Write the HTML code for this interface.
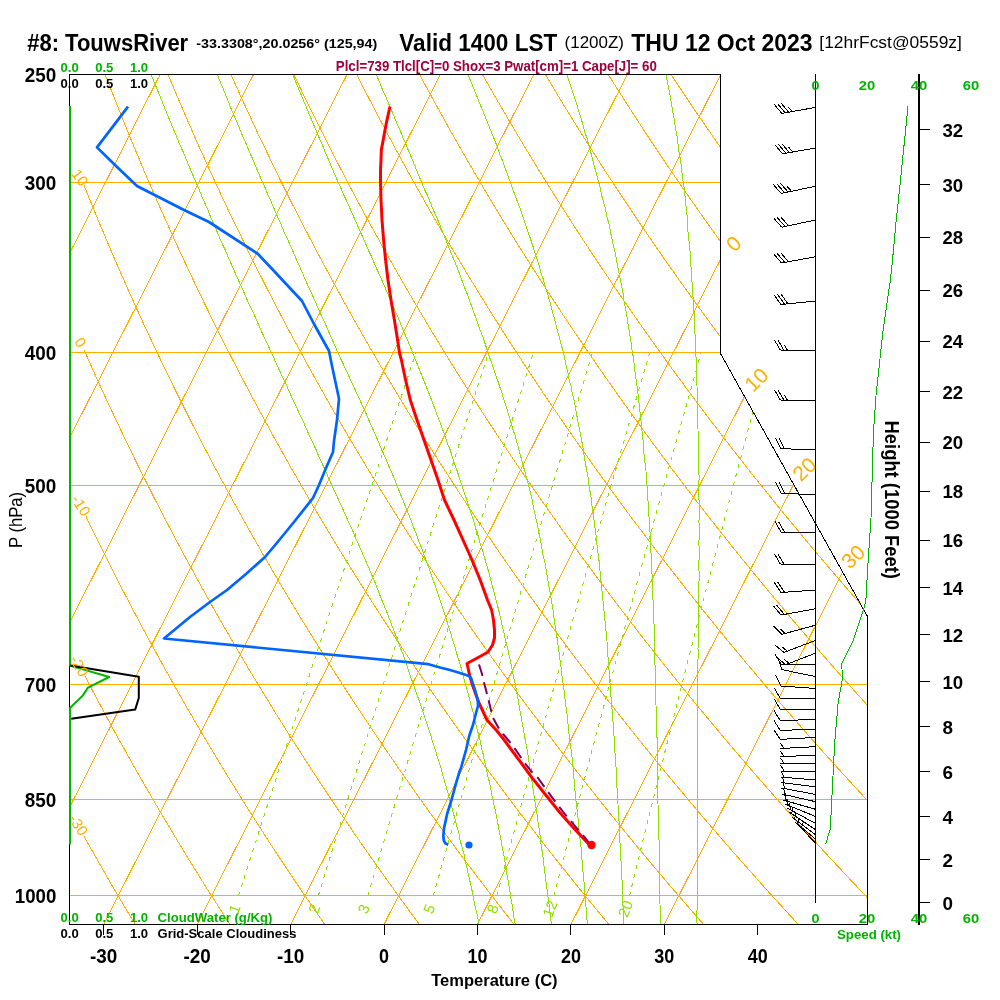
<!DOCTYPE html>
<html><head><meta charset="utf-8"><title>Skew-T TouwsRiver</title><style>html,body{margin:0;padding:0;background:#fff;overflow:hidden}svg{display:block}</style></head><body>
<svg width="1000" height="1000" viewBox="0 0 1000 1000" font-family='"Liberation Sans", Arial, Helvetica, sans-serif'><rect width="1000" height="1000" fill="#fff"/><defs><clipPath id="sk"><path d="M69.5 74.5 L720.5 74.5 L720.5 353.5 L867.5 616.5 L867.5 924.5 L69.5 924.5 Z"/></clipPath></defs>
<g clip-path="url(#sk)" fill="none" stroke-width="1" shape-rendering="crispEdges"><path d="M-737.2 924.5 L-307.1 74.5" stroke="#FFAF00"/><path d="M-643.7 924.5 L-213.6 74.5" stroke="#FFAF00"/><path d="M-550.3 924.5 L-120.2 74.5" stroke="#FFAF00"/><path d="M-456.9 924.5 L-26.8 74.5" stroke="#FFAF00"/><path d="M-363.4 924.5 L66.7 74.5" stroke="#FFAF00"/><path d="M-270 924.5 L160.1 74.5" stroke="#FFAF00"/><path d="M-176.6 924.5 L253.5 74.5" stroke="#FFAF00"/><path d="M-83.1 924.5 L347 74.5" stroke="#FFAF00"/><path d="M10.3 924.5 L440.4 74.5" stroke="#FFAF00"/><path d="M103.7 924.5 L533.8 74.5" stroke="#FFAF00"/><path d="M197.1 924.5 L627.2 74.5" stroke="#FFAF00"/><path d="M290.6 924.5 L720.7 74.5" stroke="#FFAF00"/><path d="M384 924.5 L814.1 74.5" stroke="#FFAF00"/><path d="M477.4 924.5 L907.5 74.5" stroke="#FFAF00"/><path d="M570.9 924.5 L1001 74.5" stroke="#FFAF00"/><path d="M664.3 924.5 L1094.4 74.5" stroke="#FFAF00"/><path d="M135.5 924.8 L129.1 914.2 L122.7 903.5 L116.4 892.9 L110.2 882.3 L104.1 871.6 L98 861 L91.9 850.4 L85.9 839.8 L84 836.3" stroke="#FFAF00"/><path d="M230.2 924.8 L223.3 914.2 L216.5 903.5 L209.7 892.9 L203 882.3 L196.4 871.6 L189.8 861 L183.3 850.4 L176.9 839.8 L170.5 829.1 L164.2 818.5 L157.9 807.9 L151.7 797.2 L145.5 786.6 L139.4 776 L133.4 765.4 L127.4 754.7 L121.5 744.1 L115.6 733.5 L109.8 722.8 L104.1 712.2 L98.4 701.6 L92.8 691 L87.2 680.3 L84.8 675.7" stroke="#FFAF00"/><path d="M324.9 924.8 L317.6 914.2 L310.3 903.5 L303 892.9 L295.9 882.3 L288.8 871.6 L281.7 861 L274.7 850.4 L267.8 839.8 L261 829.1 L254.2 818.5 L247.4 807.9 L240.8 797.2 L234.2 786.6 L227.6 776 L221.1 765.4 L214.7 754.7 L208.3 744.1 L202 733.5 L195.8 722.8 L189.6 712.2 L183.5 701.6 L177.4 691 L171.4 680.3 L165.5 669.7 L159.6 659.1 L153.7 648.4 L148 637.8 L142.2 627.2 L136.6 616.6 L131 605.9 L125.4 595.3 L119.9 584.7 L114.5 574 L109.1 563.4 L103.8 552.8 L98.5 542.2 L93.3 531.5 L88.1 520.9 L86 516.5" stroke="#FFAF00"/><path d="M419.7 924.8 L411.8 914.2 L404 903.5 L396.3 892.9 L388.7 882.3 L381.1 871.6 L373.6 861 L366.1 850.4 L358.7 839.8 L351.4 829.1 L344.2 818.5 L337 807.9 L329.9 797.2 L322.8 786.6 L315.8 776 L308.9 765.4 L302 754.7 L295.2 744.1 L288.4 733.5 L281.7 722.8 L275.1 712.2 L268.6 701.6 L262.1 691 L255.6 680.3 L249.2 669.7 L242.9 659.1 L236.7 648.4 L230.5 637.8 L224.3 627.2 L218.2 616.6 L212.2 605.9 L206.2 595.3 L200.3 584.7 L194.5 574 L188.7 563.4 L183 552.8 L177.3 542.2 L171.7 531.5 L166.1 520.9 L160.6 510.3 L155.1 499.6 L149.7 489 L144.4 478.4 L139.1 467.8 L133.9 457.1 L128.7 446.5 L123.6 435.9 L118.5 425.2 L113.5 414.6 L108.5 404 L103.6 393.4 L98.7 382.7 L93.9 372.1 L89.2 361.5 L84.5 350.8 L84.3 350.5" stroke="#FFAF00"/><path d="M514.4 924.8 L506.1 914.2 L497.8 903.5 L489.6 892.9 L481.5 882.3 L473.4 871.6 L465.5 861 L457.5 850.4 L449.7 839.8 L441.9 829.1 L434.2 818.5 L426.5 807.9 L418.9 797.2 L411.4 786.6 L404 776 L396.6 765.4 L389.3 754.7 L382 744.1 L374.8 733.5 L367.7 722.8 L360.6 712.2 L353.6 701.6 L346.7 691 L339.8 680.3 L333 669.7 L326.3 659.1 L319.6 648.4 L313 637.8 L306.4 627.2 L299.9 616.6 L293.4 605.9 L287.1 595.3 L280.7 584.7 L274.5 574 L268.3 563.4 L262.1 552.8 L256.1 542.2 L250 531.5 L244.1 520.9 L238.2 510.3 L232.3 499.6 L226.5 489 L220.8 478.4 L215.1 467.8 L209.5 457.1 L203.9 446.5 L198.4 435.9 L192.9 425.2 L187.5 414.6 L182.2 404 L176.9 393.4 L171.7 382.7 L166.5 372.1 L161.4 361.5 L156.3 350.8 L151.3 340.2 L146.3 329.6 L141.4 319 L136.5 308.3 L131.7 297.7 L127 287.1 L122.3 276.4 L117.6 265.8 L113 255.2 L108.5 244.6 L104 233.9 L99.5 223.3 L95.1 212.7 L90.8 202 L86.5 191.4 L84 185.3" stroke="#FFAF00"/><path d="M609.2 924.8 L600.3 914.2 L591.6 903.5 L582.9 892.9 L574.3 882.3 L565.8 871.6 L557.3 861 L548.9 850.4 L540.6 839.8 L532.4 829.1 L524.2 818.5 L516.1 807.9 L508 797.2 L500.1 786.6 L492.2 776 L484.3 765.4 L476.6 754.7 L468.9 744.1 L461.2 733.5 L453.6 722.8 L446.1 712.2 L438.7 701.6 L431.3 691 L424 680.3 L416.8 669.7 L409.6 659.1 L402.5 648.4 L395.5 637.8 L388.5 627.2 L381.5 616.6 L374.7 605.9 L367.9 595.3 L361.2 584.7 L354.5 574 L347.9 563.4 L341.3 552.8 L334.8 542.2 L328.4 531.5 L322 520.9 L315.7 510.3 L309.5 499.6 L303.3 489 L297.2 478.4 L291.1 467.8 L285.1 457.1 L279.1 446.5 L273.2 435.9 L267.4 425.2 L261.6 414.6 L255.9 404 L250.2 393.4 L244.6 382.7 L239.1 372.1 L233.6 361.5 L228.1 350.8 L222.7 340.2 L217.4 329.6 L212.1 319 L206.9 308.3 L201.7 297.7 L196.6 287.1 L191.6 276.4 L186.6 265.8 L181.6 255.2 L176.7 244.6 L171.9 233.9 L167.1 223.3 L162.3 212.7 L157.6 202 L153 191.4 L148.4 180.8 L143.8 170.2 L139.4 159.5 L134.9 148.9 L130.5 138.3 L126.2 127.6 L121.9 117 L117.7 106.4 L113.5 95.8 L109.3 85.1 L105.2 74.5" stroke="#FFAF00"/><path d="M703.9 924.8 L694.6 914.2 L685.4 903.5 L676.2 892.9 L667.1 882.3 L658.1 871.6 L649.2 861 L640.3 850.4 L631.6 839.8 L622.8 829.1 L614.2 818.5 L605.6 807.9 L597.1 797.2 L588.7 786.6 L580.3 776 L572.1 765.4 L563.8 754.7 L555.7 744.1 L547.6 733.5 L539.6 722.8 L531.7 712.2 L523.8 701.6 L516 691 L508.2 680.3 L500.6 669.7 L493 659.1 L485.4 648.4 L478 637.8 L470.5 627.2 L463.2 616.6 L455.9 605.9 L448.7 595.3 L441.6 584.7 L434.5 574 L427.5 563.4 L420.5 552.8 L413.6 542.2 L406.8 531.5 L400 520.9 L393.3 510.3 L386.7 499.6 L380.1 489 L373.6 478.4 L367.1 467.8 L360.7 457.1 L354.4 446.5 L348.1 435.9 L341.9 425.2 L335.7 414.6 L329.6 404 L323.6 393.4 L317.6 382.7 L311.6 372.1 L305.8 361.5 L300 350.8 L294.2 340.2 L288.5 329.6 L282.9 319 L277.3 308.3 L271.8 297.7 L266.3 287.1 L260.9 276.4 L255.5 265.8 L250.2 255.2 L245 244.6 L239.8 233.9 L234.6 223.3 L229.5 212.7 L224.5 202 L219.5 191.4 L214.6 180.8 L209.7 170.2 L204.9 159.5 L200.1 148.9 L195.4 138.3 L190.7 127.6 L186.1 117 L181.5 106.4 L177 95.8 L172.5 85.1 L168.1 74.5" stroke="#FFAF00"/><path d="M798.6 924.8 L788.9 914.2 L779.1 903.5 L769.5 892.9 L760 882.3 L750.5 871.6 L741.1 861 L731.7 850.4 L722.5 839.8 L713.3 829.1 L704.2 818.5 L695.2 807.9 L686.2 797.2 L677.3 786.6 L668.5 776 L659.8 765.4 L651.1 754.7 L642.5 744.1 L634 733.5 L625.5 722.8 L617.2 712.2 L608.9 701.6 L600.6 691 L592.4 680.3 L584.3 669.7 L576.3 659.1 L568.3 648.4 L560.5 637.8 L552.6 627.2 L544.9 616.6 L537.2 605.9 L529.5 595.3 L522 584.7 L514.5 574 L507.1 563.4 L499.7 552.8 L492.4 542.2 L485.2 531.5 L478 520.9 L470.9 510.3 L463.9 499.6 L456.9 489 L450 478.4 L443.1 467.8 L436.3 457.1 L429.6 446.5 L422.9 435.9 L416.3 425.2 L409.8 414.6 L403.3 404 L396.9 393.4 L390.5 382.7 L384.2 372.1 L378 361.5 L371.8 350.8 L365.7 340.2 L359.6 329.6 L353.6 319 L347.7 308.3 L341.8 297.7 L336 287.1 L330.2 276.4 L324.5 265.8 L318.8 255.2 L313.2 244.6 L307.7 233.9 L302.2 223.3 L296.7 212.7 L291.3 202 L286 191.4 L280.7 180.8 L275.5 170.2 L270.4 159.5 L265.3 148.9 L260.2 138.3 L255.2 127.6 L250.3 117 L245.4 106.4 L240.5 95.8 L235.7 85.1 L231 74.5" stroke="#FFAF00"/><path d="M893.4 924.8 L883.1 914.2 L872.9 903.5 L862.8 892.9 L852.8 882.3 L842.8 871.6 L832.9 861 L823.1 850.4 L813.4 839.8 L803.8 829.1 L794.2 818.5 L784.7 807.9 L775.3 797.2 L766 786.6 L756.7 776 L747.5 765.4 L738.4 754.7 L729.4 744.1 L720.4 733.5 L711.5 722.8 L702.7 712.2 L693.9 701.6 L685.3 691 L676.7 680.3 L668.1 669.7 L659.7 659.1 L651.3 648.4 L642.9 637.8 L634.7 627.2 L626.5 616.6 L618.4 605.9 L610.4 595.3 L602.4 584.7 L594.5 574 L586.6 563.4 L578.9 552.8 L571.2 542.2 L563.5 531.5 L556 520.9 L548.5 510.3 L541 499.6 L533.7 489 L526.4 478.4 L519.1 467.8 L511.9 457.1 L504.8 446.5 L497.8 435.9 L490.8 425.2 L483.9 414.6 L477 404 L470.2 393.4 L463.5 382.7 L456.8 372.1 L450.2 361.5 L443.6 350.8 L437.2 340.2 L430.7 329.6 L424.4 319 L418 308.3 L411.8 297.7 L405.6 287.1 L399.5 276.4 L393.4 265.8 L387.4 255.2 L381.4 244.6 L375.6 233.9 L369.7 223.3 L363.9 212.7 L358.2 202 L352.5 191.4 L346.9 180.8 L341.4 170.2 L335.9 159.5 L330.4 148.9 L325 138.3 L319.7 127.6 L314.4 117 L309.2 106.4 L304 95.8 L298.9 85.1 L293.9 74.5" stroke="#FFAF00"/><path d="M988.1 924.8 L977.4 914.2 L966.7 903.5 L956.1 892.9 L945.6 882.3 L935.2 871.6 L924.8 861 L914.5 850.4 L904.4 839.8 L894.2 829.1 L884.2 818.5 L874.3 807.9 L864.4 797.2 L854.6 786.6 L844.9 776 L835.2 765.4 L825.7 754.7 L816.2 744.1 L806.8 733.5 L797.5 722.8 L788.2 712.2 L779 701.6 L769.9 691 L760.9 680.3 L751.9 669.7 L743 659.1 L734.2 648.4 L725.4 637.8 L716.8 627.2 L708.2 616.6 L699.6 605.9 L691.2 595.3 L682.8 584.7 L674.5 574 L666.2 563.4 L658.1 552.8 L650 542.2 L641.9 531.5 L633.9 520.9 L626 510.3 L618.2 499.6 L610.4 489 L602.7 478.4 L595.1 467.8 L587.6 457.1 L580.1 446.5 L572.6 435.9 L565.2 425.2 L557.9 414.6 L550.7 404 L543.5 393.4 L536.4 382.7 L529.4 372.1 L522.4 361.5 L515.5 350.8 L508.6 340.2 L501.8 329.6 L495.1 319 L488.4 308.3 L481.8 297.7 L475.3 287.1 L468.8 276.4 L462.4 265.8 L456 255.2 L449.7 244.6 L443.4 233.9 L437.3 223.3 L431.1 212.7 L425.1 202 L419.1 191.4 L413.1 180.8 L407.2 170.2 L401.4 159.5 L395.6 148.9 L389.9 138.3 L384.2 127.6 L378.6 117 L373.1 106.4 L367.6 95.8 L362.1 85.1 L356.7 74.5" stroke="#FFAF00"/><path d="M1082.9 924.8 L1071.6 914.2 L1060.5 903.5 L1049.4 892.9 L1038.4 882.3 L1027.5 871.6 L1016.7 861 L1005.9 850.4 L995.3 839.8 L984.7 829.1 L974.2 818.5 L963.8 807.9 L953.5 797.2 L943.2 786.6 L933.1 776 L923 765.4 L913 754.7 L903 744.1 L893.2 733.5 L883.4 722.8 L873.7 712.2 L864.1 701.6 L854.5 691 L845.1 680.3 L835.7 669.7 L826.4 659.1 L817.1 648.4 L807.9 637.8 L798.9 627.2 L789.8 616.6 L780.9 605.9 L772 595.3 L763.2 584.7 L754.5 574 L745.8 563.4 L737.2 552.8 L728.7 542.2 L720.3 531.5 L711.9 520.9 L703.6 510.3 L695.4 499.6 L687.2 489 L679.1 478.4 L671.1 467.8 L663.2 457.1 L655.3 446.5 L647.5 435.9 L639.7 425.2 L632 414.6 L624.4 404 L616.9 393.4 L609.4 382.7 L602 372.1 L594.6 361.5 L587.3 350.8 L580.1 340.2 L572.9 329.6 L565.8 319 L558.8 308.3 L551.8 297.7 L544.9 287.1 L538.1 276.4 L531.3 265.8 L524.6 255.2 L517.9 244.6 L511.3 233.9 L504.8 223.3 L498.3 212.7 L491.9 202 L485.6 191.4 L479.3 180.8 L473.1 170.2 L466.9 159.5 L460.8 148.9 L454.7 138.3 L448.7 127.6 L442.8 117 L436.9 106.4 L431.1 95.8 L425.3 85.1 L419.6 74.5" stroke="#FFAF00"/><path d="M1177.6 924.8 L1165.9 914.2 L1154.2 903.5 L1142.7 892.9 L1131.2 882.3 L1119.9 871.6 L1108.6 861 L1097.4 850.4 L1086.2 839.8 L1075.2 829.1 L1064.2 818.5 L1053.4 807.9 L1042.6 797.2 L1031.9 786.6 L1021.2 776 L1010.7 765.4 L1000.2 754.7 L989.9 744.1 L979.6 733.5 L969.4 722.8 L959.2 712.2 L949.2 701.6 L939.2 691 L929.3 680.3 L919.4 669.7 L909.7 659.1 L900 648.4 L890.4 637.8 L880.9 627.2 L871.5 616.6 L862.1 605.9 L852.8 595.3 L843.6 584.7 L834.5 574 L825.4 563.4 L816.4 552.8 L807.5 542.2 L798.7 531.5 L789.9 520.9 L781.2 510.3 L772.6 499.6 L764 489 L755.5 478.4 L747.1 467.8 L738.8 457.1 L730.5 446.5 L722.3 435.9 L714.2 425.2 L706.1 414.6 L698.1 404 L690.2 393.4 L682.3 382.7 L674.5 372.1 L666.8 361.5 L659.2 350.8 L651.6 340.2 L644 329.6 L636.6 319 L629.2 308.3 L621.9 297.7 L614.6 287.1 L607.4 276.4 L600.3 265.8 L593.2 255.2 L586.2 244.6 L579.2 233.9 L572.4 223.3 L565.6 212.7 L558.8 202 L552.1 191.4 L545.5 180.8 L538.9 170.2 L532.4 159.5 L525.9 148.9 L519.6 138.3 L513.2 127.6 L507 117 L500.8 106.4 L494.6 95.8 L488.5 85.1 L482.5 74.5" stroke="#FFAF00"/><path d="M1272.4 924.8 L1260.1 914.2 L1248 903.5 L1236 892.9 L1224 882.3 L1212.2 871.6 L1200.4 861 L1188.8 850.4 L1177.2 839.8 L1165.7 829.1 L1154.2 818.5 L1142.9 807.9 L1131.7 797.2 L1120.5 786.6 L1109.4 776 L1098.4 765.4 L1087.5 754.7 L1076.7 744.1 L1066 733.5 L1055.3 722.8 L1044.7 712.2 L1034.2 701.6 L1023.8 691 L1013.5 680.3 L1003.2 669.7 L993.1 659.1 L983 648.4 L972.9 637.8 L963 627.2 L953.1 616.6 L943.4 605.9 L933.7 595.3 L924 584.7 L914.5 574 L905 563.4 L895.6 552.8 L886.3 542.2 L877 531.5 L867.9 520.9 L858.8 510.3 L849.8 499.6 L840.8 489 L831.9 478.4 L823.1 467.8 L814.4 457.1 L805.7 446.5 L797.1 435.9 L788.6 425.2 L780.2 414.6 L771.8 404 L763.5 393.4 L755.3 382.7 L747.1 372.1 L739 361.5 L731 350.8 L723 340.2 L715.1 329.6 L707.3 319 L699.6 308.3 L691.9 297.7 L684.3 287.1 L676.7 276.4 L669.2 265.8 L661.8 255.2 L654.4 244.6 L647.1 233.9 L639.9 223.3 L632.8 212.7 L625.7 202 L618.6 191.4 L611.7 180.8 L604.7 170.2 L597.9 159.5 L591.1 148.9 L584.4 138.3 L577.7 127.6 L571.1 117 L564.6 106.4 L558.1 95.8 L551.7 85.1 L545.4 74.5" stroke="#FFAF00"/><path d="M1367.1 924.8 L1354.4 914.2 L1341.8 903.5 L1329.3 892.9 L1316.9 882.3 L1304.5 871.6 L1292.3 861 L1280.2 850.4 L1268.1 839.8 L1256.1 829.1 L1244.3 818.5 L1232.5 807.9 L1220.8 797.2 L1209.1 786.6 L1197.6 776 L1186.2 765.4 L1174.8 754.7 L1163.5 744.1 L1152.4 733.5 L1141.3 722.8 L1130.2 712.2 L1119.3 701.6 L1108.5 691 L1097.7 680.3 L1087 669.7 L1076.4 659.1 L1065.9 648.4 L1055.4 637.8 L1045.1 627.2 L1034.8 616.6 L1024.6 605.9 L1014.5 595.3 L1004.4 584.7 L994.5 574 L984.6 563.4 L974.8 552.8 L965.1 542.2 L955.4 531.5 L945.9 520.9 L936.4 510.3 L926.9 499.6 L917.6 489 L908.3 478.4 L899.1 467.8 L890 457.1 L881 446.5 L872 435.9 L863.1 425.2 L854.3 414.6 L845.5 404 L836.8 393.4 L828.2 382.7 L819.7 372.1 L811.2 361.5 L802.8 350.8 L794.5 340.2 L786.2 329.6 L778.1 319 L769.9 308.3 L761.9 297.7 L753.9 287.1 L746 276.4 L738.2 265.8 L730.4 255.2 L722.7 244.6 L715 233.9 L707.5 223.3 L700 212.7 L692.5 202 L685.1 191.4 L677.8 180.8 L670.6 170.2 L663.4 159.5 L656.3 148.9 L649.2 138.3 L642.2 127.6 L635.3 117 L628.5 106.4 L621.7 95.8 L614.9 85.1 L608.2 74.5" stroke="#FFAF00"/><path d="M1461.8 924.8 L1448.7 914.2 L1435.6 903.5 L1422.6 892.9 L1409.7 882.3 L1396.9 871.6 L1384.2 861 L1371.6 850.4 L1359 839.8 L1346.6 829.1 L1334.3 818.5 L1322 807.9 L1309.8 797.2 L1297.8 786.6 L1285.8 776 L1273.9 765.4 L1262.1 754.7 L1250.4 744.1 L1238.7 733.5 L1227.2 722.8 L1215.7 712.2 L1204.4 701.6 L1193.1 691 L1181.9 680.3 L1170.8 669.7 L1159.7 659.1 L1148.8 648.4 L1137.9 637.8 L1127.2 627.2 L1116.5 616.6 L1105.8 605.9 L1095.3 595.3 L1084.9 584.7 L1074.5 574 L1064.2 563.4 L1054 552.8 L1043.9 542.2 L1033.8 531.5 L1023.8 520.9 L1013.9 510.3 L1004.1 499.6 L994.4 489 L984.7 478.4 L975.1 467.8 L965.6 457.1 L956.2 446.5 L946.8 435.9 L937.6 425.2 L928.3 414.6 L919.2 404 L910.2 393.4 L901.2 382.7 L892.3 372.1 L883.4 361.5 L874.7 350.8 L866 340.2 L857.4 329.6 L848.8 319 L840.3 308.3 L831.9 297.7 L823.6 287.1 L815.3 276.4 L807.1 265.8 L799 255.2 L790.9 244.6 L782.9 233.9 L775 223.3 L767.2 212.7 L759.4 202 L751.7 191.4 L744 180.8 L736.4 170.2 L728.9 159.5 L721.5 148.9 L714.1 138.3 L706.8 127.6 L699.5 117 L692.3 106.4 L685.2 95.8 L678.1 85.1 L671.1 74.5" stroke="#FFAF00"/><path d="M1556.6 924.8 L1542.9 914.2 L1529.3 903.5 L1515.9 892.9 L1502.5 882.3 L1489.2 871.6 L1476 861 L1463 850.4 L1450 839.8 L1437.1 829.1 L1424.3 818.5 L1411.6 807.9 L1398.9 797.2 L1386.4 786.6 L1374 776 L1361.6 765.4 L1349.4 754.7 L1337.2 744.1 L1325.1 733.5 L1313.2 722.8 L1301.3 712.2 L1289.5 701.6 L1277.7 691 L1266.1 680.3 L1254.6 669.7 L1243.1 659.1 L1231.7 648.4 L1220.4 637.8 L1209.2 627.2 L1198.1 616.6 L1187.1 605.9 L1176.1 595.3 L1165.3 584.7 L1154.5 574 L1143.8 563.4 L1133.2 552.8 L1122.6 542.2 L1112.2 531.5 L1101.8 520.9 L1091.5 510.3 L1081.3 499.6 L1071.2 489 L1061.1 478.4 L1051.1 467.8 L1041.2 457.1 L1031.4 446.5 L1021.7 435.9 L1012 425.2 L1002.4 414.6 L992.9 404 L983.5 393.4 L974.1 382.7 L964.8 372.1 L955.6 361.5 L946.5 350.8 L937.4 340.2 L928.5 329.6 L919.5 319 L910.7 308.3 L901.9 297.7 L893.2 287.1 L884.6 276.4 L876.1 265.8 L867.6 255.2 L859.2 244.6 L850.8 233.9 L842.6 223.3 L834.4 212.7 L826.2 202 L818.2 191.4 L810.2 180.8 L802.3 170.2 L794.4 159.5 L786.6 148.9 L778.9 138.3 L771.3 127.6 L763.7 117 L756.2 106.4 L748.7 95.8 L741.3 85.1 L734 74.5" stroke="#FFAF00"/><path d="M1651.3 924.8 L1637.2 914.2 L1623.1 903.5 L1609.2 892.9 L1595.3 882.3 L1581.6 871.6 L1567.9 861 L1554.4 850.4 L1540.9 839.8 L1527.5 829.1 L1514.3 818.5 L1501.1 807.9 L1488 797.2 L1475 786.6 L1462.2 776 L1449.4 765.4 L1436.7 754.7 L1424.1 744.1 L1411.5 733.5 L1399.1 722.8 L1386.8 712.2 L1374.5 701.6 L1362.4 691 L1350.3 680.3 L1338.3 669.7 L1326.4 659.1 L1314.6 648.4 L1302.9 637.8 L1291.3 627.2 L1279.8 616.6 L1268.3 605.9 L1257 595.3 L1245.7 584.7 L1234.5 574 L1223.4 563.4 L1212.4 552.8 L1201.4 542.2 L1190.6 531.5 L1179.8 520.9 L1169.1 510.3 L1158.5 499.6 L1148 489 L1137.5 478.4 L1127.1 467.8 L1116.9 457.1 L1106.6 446.5 L1096.5 435.9 L1086.5 425.2 L1076.5 414.6 L1066.6 404 L1056.8 393.4 L1047.1 382.7 L1037.4 372.1 L1027.8 361.5 L1018.3 350.8 L1008.9 340.2 L999.6 329.6 L990.3 319 L981.1 308.3 L972 297.7 L962.9 287.1 L953.9 276.4 L945 265.8 L936.2 255.2 L927.4 244.6 L918.7 233.9 L910.1 223.3 L901.6 212.7 L893.1 202 L884.7 191.4 L876.4 180.8 L868.1 170.2 L859.9 159.5 L851.8 148.9 L843.8 138.3 L835.8 127.6 L827.9 117 L820 106.4 L812.2 95.8 L804.5 85.1 L796.9 74.5" stroke="#FFAF00"/><path d="M1746.1 924.8 L1731.4 914.2 L1716.9 903.5 L1702.5 892.9 L1688.1 882.3 L1673.9 871.6 L1659.8 861 L1645.8 850.4 L1631.8 839.8 L1618 829.1 L1604.3 818.5 L1590.7 807.9 L1577.1 797.2 L1563.7 786.6 L1550.3 776 L1537.1 765.4 L1523.9 754.7 L1510.9 744.1 L1497.9 733.5 L1485.1 722.8 L1472.3 712.2 L1459.6 701.6 L1447 691 L1434.5 680.3 L1422.1 669.7 L1409.8 659.1 L1397.6 648.4 L1385.4 637.8 L1373.4 627.2 L1361.4 616.6 L1349.6 605.9 L1337.8 595.3 L1326.1 584.7 L1314.5 574 L1303 563.4 L1291.5 552.8 L1280.2 542.2 L1268.9 531.5 L1257.8 520.9 L1246.7 510.3 L1235.7 499.6 L1224.7 489 L1213.9 478.4 L1203.1 467.8 L1192.5 457.1 L1181.9 446.5 L1171.4 435.9 L1160.9 425.2 L1150.6 414.6 L1140.3 404 L1130.1 393.4 L1120 382.7 L1110 372.1 L1100 361.5 L1090.2 350.8 L1080.4 340.2 L1070.7 329.6 L1061 319 L1051.5 308.3 L1042 297.7 L1032.6 287.1 L1023.2 276.4 L1014 265.8 L1004.8 255.2 L995.7 244.6 L986.6 233.9 L977.7 223.3 L968.8 212.7 L960 202 L951.2 191.4 L942.6 180.8 L934 170.2 L925.4 159.5 L917 148.9 L908.6 138.3 L900.3 127.6 L892 117 L883.9 106.4 L875.7 95.8 L867.7 85.1 L859.7 74.5" stroke="#FFAF00"/><path d="M1840.8 924.8 L1825.7 914.2 L1810.7 903.5 L1795.8 892.9 L1781 882.3 L1766.3 871.6 L1751.7 861 L1737.2 850.4 L1722.8 839.8 L1708.5 829.1 L1694.3 818.5 L1680.2 807.9 L1666.2 797.2 L1652.3 786.6 L1638.5 776 L1624.8 765.4 L1611.2 754.7 L1597.7 744.1 L1584.3 733.5 L1571 722.8 L1557.8 712.2 L1544.7 701.6 L1531.7 691 L1518.7 680.3 L1505.9 669.7 L1493.1 659.1 L1480.5 648.4 L1467.9 637.8 L1455.5 627.2 L1443.1 616.6 L1430.8 605.9 L1418.6 595.3 L1406.5 584.7 L1394.5 574 L1382.6 563.4 L1370.7 552.8 L1359 542.2 L1347.3 531.5 L1335.7 520.9 L1324.2 510.3 L1312.8 499.6 L1301.5 489 L1290.3 478.4 L1279.1 467.8 L1268.1 457.1 L1257.1 446.5 L1246.2 435.9 L1235.4 425.2 L1224.7 414.6 L1214 404 L1203.5 393.4 L1193 382.7 L1182.6 372.1 L1172.3 361.5 L1162 350.8 L1151.9 340.2 L1141.8 329.6 L1131.8 319 L1121.8 308.3 L1112 297.7 L1102.2 287.1 L1092.5 276.4 L1082.9 265.8 L1073.4 255.2 L1063.9 244.6 L1054.5 233.9 L1045.2 223.3 L1036 212.7 L1026.8 202 L1017.8 191.4 L1008.7 180.8 L999.8 170.2 L990.9 159.5 L982.1 148.9 L973.4 138.3 L964.8 127.6 L956.2 117 L947.7 106.4 L939.3 95.8 L930.9 85.1 L922.6 74.5" stroke="#FFAF00"/><path d="M1935.5 924.8 L1919.9 914.2 L1904.4 903.5 L1889.1 892.9 L1873.8 882.3 L1858.6 871.6 L1843.5 861 L1828.6 850.4 L1813.7 839.8 L1799 829.1 L1784.3 818.5 L1769.8 807.9 L1755.3 797.2 L1741 786.6 L1726.7 776 L1712.6 765.4 L1698.5 754.7 L1684.6 744.1 L1670.7 733.5 L1657 722.8 L1643.3 712.2 L1629.8 701.6 L1616.3 691 L1602.9 680.3 L1589.7 669.7 L1576.5 659.1 L1563.4 648.4 L1550.4 637.8 L1537.5 627.2 L1524.7 616.6 L1512 605.9 L1499.4 595.3 L1486.9 584.7 L1474.5 574 L1462.2 563.4 L1449.9 552.8 L1437.7 542.2 L1425.7 531.5 L1413.7 520.9 L1401.8 510.3 L1390 499.6 L1378.3 489 L1366.7 478.4 L1355.1 467.8 L1343.7 457.1 L1332.3 446.5 L1321.1 435.9 L1309.9 425.2 L1298.7 414.6 L1287.7 404 L1276.8 393.4 L1265.9 382.7 L1255.2 372.1 L1244.5 361.5 L1233.8 350.8 L1223.3 340.2 L1212.9 329.6 L1202.5 319 L1192.2 308.3 L1182 297.7 L1171.9 287.1 L1161.8 276.4 L1151.9 265.8 L1142 255.2 L1132.2 244.6 L1122.4 233.9 L1112.8 223.3 L1103.2 212.7 L1093.7 202 L1084.3 191.4 L1074.9 180.8 L1065.6 170.2 L1056.4 159.5 L1047.3 148.9 L1038.3 138.3 L1029.3 127.6 L1020.4 117 L1011.6 106.4 L1002.8 95.8 L994.1 85.1 L985.5 74.5" stroke="#FFAF00"/><path d="M2030.3 924.8 L2014.2 914.2 L1998.2 903.5 L1982.4 892.9 L1966.6 882.3 L1951 871.6 L1935.4 861 L1920 850.4 L1904.6 839.8 L1889.4 829.1 L1874.3 818.5 L1859.3 807.9 L1844.4 797.2 L1829.6 786.6 L1814.9 776 L1800.3 765.4 L1785.8 754.7 L1771.4 744.1 L1757.1 733.5 L1742.9 722.8 L1728.8 712.2 L1714.8 701.6 L1700.9 691 L1687.1 680.3 L1673.4 669.7 L1659.8 659.1 L1646.3 648.4 L1632.9 637.8 L1619.6 627.2 L1606.4 616.6 L1593.3 605.9 L1580.3 595.3 L1567.3 584.7 L1554.5 574 L1541.7 563.4 L1529.1 552.8 L1516.5 542.2 L1504.1 531.5 L1491.7 520.9 L1479.4 510.3 L1467.2 499.6 L1455.1 489 L1443.1 478.4 L1431.2 467.8 L1419.3 457.1 L1407.6 446.5 L1395.9 435.9 L1384.3 425.2 L1372.8 414.6 L1361.4 404 L1350.1 393.4 L1338.9 382.7 L1327.7 372.1 L1316.7 361.5 L1305.7 350.8 L1294.8 340.2 L1284 329.6 L1273.2 319 L1262.6 308.3 L1252 297.7 L1241.6 287.1 L1231.1 276.4 L1220.8 265.8 L1210.6 255.2 L1200.4 244.6 L1190.3 233.9 L1180.3 223.3 L1170.4 212.7 L1160.6 202 L1150.8 191.4 L1141.1 180.8 L1131.5 170.2 L1122 159.5 L1112.5 148.9 L1103.1 138.3 L1093.8 127.6 L1084.6 117 L1075.4 106.4 L1066.3 95.8 L1057.3 85.1 L1048.4 74.5" stroke="#FFAF00"/><path d="M69.5 182.5 H880" stroke="#FFAF00"/><path d="M69.5 352.5 H880" stroke="#FFAF00"/><path d="M69.5 485.5 H880" stroke="#FFAF00"/><path d="M69.5 684.5 H880" stroke="#FFAF00"/><path d="M69.5 799.5 H880" stroke="#FFAF00"/><path d="M69.5 895.5 H880" stroke="#FFAF00"/><path d="M479.2 924.8 L477.8 917.7 L476.2 910.6 L474.5 903.5 L473.2 896.4 L471.8 889.4 L470.2 882.3 L468.5 875.2 L467.1 868.1 L465.2 861 L463.9 853.9 L461.9 846.8 L460 839.8 L458.7 832.7 L456.7 825.6 L454.8 818.5 L452.9 811.4 L451 804.3 L449.1 797.2 L447.1 790.2 L445.1 783.1 L443.1 776 L441.2 768.9 L438.9 761.8 L436.7 754.7 L434.7 747.6 L432.2 740.6 L430.2 733.5 L427.7 726.4 L425.5 719.3 L423.2 712.2 L420.7 705.1 L418.2 698 L415.7 691 L413.2 683.9 L410.7 676.8 L408.3 669.7 L405.9 662.6 L403.5 655.5 L400.5 648.4 L398.1 641.4 L395.3 634.3 L392.6 627.2 L389.9 620.1 L387.2 613 L384.3 605.9 L381.3 598.8 L378.6 591.8 L375.9 584.7 L372.9 577.6 L369.9 570.5 L366.9 563.4 L363.7 556.3 L360.7 549.2 L357.5 542.2 L354.5 535.1 L351.5 528 L348 520.9 L345 513.8 L341.8 506.7 L338.5 499.6 L335.3 492.6 L332 485.5 L328.6 478.4 L325.8 471.3 L322.4 464.2 L319.1 457.1 L316.2 450 L312.9 443 L309.5 435.9 L306.4 428.8 L303.3 421.7 L299.9 414.6 L296.6 407.5 L293.2 400.4 L290.1 393.4 L287 386.3 L283.6 379.2 L280.3 372.1 L276.9 365 L273.8 357.9 L270.4 350.8 L267.4 343.8 L264 336.7 L260.7 329.6 L257.6 322.5 L254.5 315.4 L251.1 308.3 L247.8 301.2 L244.7 294.2 L241.6 287.1 L238.3 280 L235.2 272.9 L232.1 265.8 L228.8 258.7 L226 251.6 L222.6 244.6 L219.5 237.5 L216.5 230.4 L213.4 223.3 L210.3 216.2 L207.5 209.1 L204.4 202 L201.3 195 L198.5 187.9 L195.4 180.8 L192.2 173.7 L189.2 166.6 L186.3 159.5 L183.4 152.4 L180.1 145.4 L177.2 138.3 L174.3 131.2 L171.3 124.1 L168.4 117 L165.4 109.9 L162.7 102.8 L159.8 95.8 L156.9 88.7 L153.9 81.6 L151.2 74.5" stroke="#90E000"/><path d="M515.3 924.8 L514 917.7 L512.9 910.6 L511.9 903.5 L510.5 896.4 L509.7 889.4 L508.4 882.3 L507 875.2 L506 868.1 L504.9 861 L503.6 853.9 L502.2 846.8 L500.9 839.8 L499.5 832.7 L498.2 825.6 L496.9 818.5 L495.5 811.4 L493.9 804.3 L492.3 797.2 L491 790.2 L489.7 783.1 L487.8 776 L486.5 768.9 L484.6 761.8 L483.3 754.7 L481.5 747.6 L480.2 740.6 L478.3 733.5 L476.4 726.4 L474.6 719.3 L473 712.2 L471.1 705.1 L469.3 698 L467.4 691 L465.3 683.9 L463.4 676.8 L461.6 669.7 L459.7 662.6 L457.3 655.5 L455.4 648.4 L453 641.4 L451.1 634.3 L448.7 627.2 L446.6 620.1 L444.4 613 L442 605.9 L439.6 598.8 L437.2 591.8 L434.8 584.7 L432.3 577.6 L429.9 570.5 L427.2 563.4 L424.6 556.3 L422.1 549.2 L419.2 542.2 L416.8 535.1 L413.8 528 L411.4 520.9 L408.4 513.8 L405.5 506.7 L402.8 499.6 L399.8 492.6 L397.1 485.5 L394.2 478.4 L391.2 471.3 L388 464.2 L385.1 457.1 L381.8 450 L378.9 443 L375.9 435.9 L372.7 428.8 L369.5 421.7 L366.6 414.6 L363.1 407.5 L360.1 400.4 L356.6 393.4 L353.7 386.3 L350.2 379.2 L347 372.1 L343.7 365 L340.3 357.9 L337.1 350.8 L334.1 343.8 L330.8 336.7 L327.7 329.6 L324.7 322.5 L321.4 315.4 L318.1 308.3 L315.1 301.2 L312 294.2 L308.7 287.1 L305.4 280 L302.4 272.9 L299.4 265.8 L296.1 258.7 L293 251.6 L290 244.6 L286.7 237.5 L283.4 230.4 L280.7 223.3 L277.3 216.2 L274.3 209.1 L271.3 202 L268 195 L265.2 187.9 L261.9 180.8 L258.8 173.7 L255.7 166.6 L252.9 159.5 L249.6 152.4 L246.8 145.4 L243.7 138.3 L240.6 131.2 L237.8 124.1 L234.7 117 L231.6 109.9 L228.8 102.8 L226 95.8 L223.2 88.7 L220.1 81.6 L217.3 74.5" stroke="#90E000"/><path d="M551.5 924.8 L550.6 917.7 L549.8 910.6 L549 903.5 L547.9 896.4 L547.1 889.4 L546 882.3 L545.2 875.2 L544.3 868.1 L543.5 861 L542.7 853.9 L541.3 846.8 L540.5 839.8 L539.7 832.7 L538.6 825.6 L537.5 818.5 L536.7 811.4 L535.3 804.3 L534.5 797.2 L533.2 790.2 L532.2 783.1 L531.2 776 L530 768.9 L529 761.8 L528 754.7 L526.7 747.6 L525.4 740.6 L524.1 733.5 L522.9 726.4 L521.6 719.3 L520.3 712.2 L519 705.1 L517.8 698 L516.5 691 L515.2 683.9 L513.6 676.8 L512.1 669.7 L510.7 662.6 L509.2 655.5 L507.6 648.4 L505.7 641.4 L504.4 634.3 L502.6 627.2 L501 620.1 L499.4 613 L497.6 605.9 L495.7 598.8 L493.9 591.8 L492 584.7 L490.1 577.6 L488.3 570.5 L486.2 563.4 L484 556.3 L482.2 549.2 L479.8 542.2 L477.9 535.1 L475.5 528 L473.7 520.9 L471.3 513.8 L468.9 506.7 L466.7 499.6 L464.3 492.6 L461.9 485.5 L459.6 478.4 L457.3 471.3 L454.8 464.2 L452.5 457.1 L450.2 450 L447.3 443 L445 435.9 L442.4 428.8 L439.8 421.7 L437 414.6 L434.4 407.5 L431.8 400.4 L429 393.4 L426.1 386.3 L423.3 379.2 L420.4 372.1 L417.6 365 L414.7 357.9 L411.9 350.8 L409.1 343.8 L406 336.7 L402.9 329.6 L400.1 322.5 L397.2 315.4 L393.9 308.3 L391.1 301.2 L388 294.2 L384.9 287.1 L381.8 280 L378.7 272.9 L375.3 265.8 L372.5 258.7 L369.1 251.6 L366 244.6 L362.9 237.5 L359.6 230.4 L356.7 223.3 L353.4 216.2 L350.3 209.1 L347.2 202 L343.8 195 L340.7 187.9 L337.6 180.8 L334.4 173.7 L331.4 166.6 L328.5 159.5 L325.2 152.4 L322.6 145.4 L319.3 138.3 L316.4 131.2 L313.4 124.1 L310.4 117 L307.5 109.9 L304.5 102.8 L301.5 95.8 L298.6 88.7 L295.6 81.6 L292.9 74.5" stroke="#90E000"/><path d="M587.6 924.8 L586.7 917.7 L586.4 910.6 L585.6 903.5 L585.3 896.4 L584.4 889.4 L584.1 882.3 L583.3 875.2 L582.7 868.1 L582.1 861 L581.3 853.9 L581 846.8 L580.1 839.8 L579.3 832.7 L578.4 825.6 L578.1 818.5 L577.3 811.4 L576.4 804.3 L575.6 797.2 L574.9 790.2 L574.4 783.1 L573.7 776 L573.2 768.9 L572.5 761.8 L571.8 754.7 L570.8 747.6 L569.7 740.6 L569 733.5 L568.3 726.4 L567.5 719.3 L566.8 712.2 L565.8 705.1 L564.8 698 L564.1 691 L563.1 683.9 L562.1 676.8 L561.5 669.7 L560.3 662.6 L559.6 655.5 L558.4 648.4 L557.5 641.4 L556.6 634.3 L555.4 627.2 L554.2 620.1 L553.5 613 L552.3 605.9 L551.1 598.8 L549.9 591.8 L548.7 584.7 L547.5 577.6 L546.3 570.5 L545.1 563.4 L543.3 556.3 L542.1 549.2 L540.9 542.2 L539.4 535.1 L538 528 L536.5 520.9 L535 513.8 L533.3 506.7 L532.1 499.6 L530.3 492.6 L528.6 485.5 L526.7 478.4 L524.8 471.3 L522.8 464.2 L520.9 457.1 L519 450 L517.1 443 L515.2 435.9 L512.7 428.8 L510.8 421.7 L508.6 414.6 L506.5 407.5 L504 400.4 L502.1 393.4 L499.6 386.3 L497.2 379.2 L494.7 372.1 L492.3 365 L489.8 357.9 L487.4 350.8 L485.1 343.8 L482.8 336.7 L479.9 329.6 L477.6 322.5 L475 315.4 L472.4 308.3 L469.8 301.2 L467.3 294.2 L464.4 287.1 L461.8 280 L459.2 272.9 L456.4 265.8 L453.5 258.7 L450.6 251.6 L447.8 244.6 L444.9 237.5 L442.1 230.4 L439.2 223.3 L436.1 216.2 L432.9 209.1 L430.1 202 L427.2 195 L423.8 187.9 L421 180.8 L418 173.7 L415.1 166.6 L412.4 159.5 L409.1 152.4 L406.4 145.4 L403.2 138.3 L400.5 131.2 L397.2 124.1 L394.3 117 L391.3 109.9 L388.3 102.8 L385.4 95.8 L382.1 88.7 L379.4 81.6 L376.2 74.5" stroke="#90E000"/><path d="M623.7 924.8 L623.5 917.7 L623.2 910.6 L622.9 903.5 L622.6 896.4 L622.4 889.4 L622.1 882.3 L621.8 875.2 L621.5 868.1 L621 861 L620.4 853.9 L620.2 846.8 L619.9 839.8 L619.6 832.7 L619.3 825.6 L618.8 818.5 L618.2 811.4 L618 804.3 L617.7 797.2 L617.2 790.2 L616.7 783.1 L616.4 776 L616.2 768.9 L615.4 761.8 L615.2 754.7 L614.4 747.6 L614.2 740.6 L613.9 733.5 L613.2 726.4 L612.9 719.3 L612.1 712.2 L611.9 705.1 L611.1 698 L610.6 691 L610.1 683.9 L609.4 676.8 L609 669.7 L608.6 662.6 L607.9 655.5 L607.2 648.4 L607 641.4 L606.3 634.3 L605.6 627.2 L604.9 620.1 L604.2 613 L603.5 605.9 L602.8 598.8 L602.1 591.8 L601.4 584.7 L600.7 577.6 L600 570.5 L599.3 563.4 L598.6 556.3 L597.4 549.2 L596.7 542.2 L596 535.1 L595 528 L594.1 520.9 L593.4 513.8 L592.1 506.7 L591.4 499.6 L590.2 492.6 L588.9 485.5 L588.2 478.4 L586.9 471.3 L585.6 464.2 L584.3 457.1 L583.3 450 L582.1 443 L580.8 435.9 L579.5 428.8 L577.9 421.7 L576.7 414.6 L575.4 407.5 L574.1 400.4 L572.3 393.4 L571 386.3 L569.1 379.2 L567.9 372.1 L566 365 L564.7 357.9 L562.9 350.8 L561 343.8 L559.1 336.7 L557.2 329.6 L555.4 322.5 L553.5 315.4 L551.6 308.3 L549.7 301.2 L547.8 294.2 L545.4 287.1 L543.5 280 L541.1 272.9 L539.2 265.8 L536.8 258.7 L534.6 251.6 L532.4 244.6 L530 237.5 L527.6 230.4 L525.1 223.3 L522.7 216.2 L520.3 209.1 L517.6 202 L514.9 195 L512.4 187.9 L509.8 180.8 L507.2 173.7 L504.6 166.6 L502 159.5 L499.1 152.4 L496.8 145.4 L493.9 138.3 L491 131.2 L488.1 124.1 L485.3 117 L482.4 109.9 L479.5 102.8 L476.7 95.8 L473.8 88.7 L470.9 81.6 L468 74.5" stroke="#90E000"/><path d="M660.4 924.8 L660.1 917.7 L660.1 910.6 L660 903.5 L659.7 896.4 L660 889.4 L659.7 882.3 L659.4 875.2 L659.6 868.1 L659.3 861 L659 853.9 L659 846.8 L659 839.8 L658.7 832.7 L658.3 825.6 L658.6 818.5 L658.3 811.4 L658 804.3 L657.7 797.2 L657.8 790.2 L657.8 783.1 L657.6 776 L657.4 768.9 L657.2 761.8 L657.2 754.7 L657.3 747.6 L657.1 740.6 L656.9 733.5 L656.6 726.4 L656.4 719.3 L656.2 712.2 L656 705.1 L655.8 698 L655.6 691 L655.4 683.9 L655.5 676.8 L655.3 669.7 L654.9 662.6 L654.7 655.5 L654.5 648.4 L654.4 641.4 L654.2 634.3 L654.1 627.2 L653.9 620.1 L653.7 613 L653.6 605.9 L652.9 598.8 L652.7 591.8 L652.5 584.7 L652.4 577.6 L651.7 570.5 L651.5 563.4 L651.4 556.3 L650.6 549.2 L650.5 542.2 L650.3 535.1 L649.6 528 L649.5 520.9 L648.7 513.8 L648.6 506.7 L647.9 499.6 L647.7 492.6 L647 485.5 L646.2 478.4 L646 471.3 L645.2 464.2 L644.4 457.1 L643.6 450 L643.4 443 L642.6 435.9 L641.8 428.8 L641.1 421.7 L640.3 414.6 L639.5 407.5 L638.7 400.4 L637.9 393.4 L637.1 386.3 L636.1 379.2 L635 372.1 L634.2 365 L633.5 357.9 L632.1 350.8 L631.3 343.8 L630.2 336.7 L629 329.6 L627.7 322.5 L626.8 315.4 L625.4 308.3 L624 301.2 L623.2 294.2 L621.8 287.1 L620.4 280 L619 272.9 L617.6 265.8 L616.3 258.7 L614.9 251.6 L613.2 244.6 L611.6 237.5 L610.2 230.4 L608.8 223.3 L606.8 216.2 L605.5 209.1 L603.5 202 L601.6 195 L600.2 187.9 L598.3 180.8 L596.4 173.7 L594.5 166.6 L592.6 159.5 L590.7 152.4 L588.9 145.4 L587 138.3 L584.5 131.2 L582.7 124.1 L580.8 117 L578.4 109.9 L576.2 102.8 L574 95.8 L571.6 88.7 L569.2 81.6 L567 74.5" stroke="#90E000"/><path d="M697.1 924.8 L696.8 917.7 L697 910.6 L697.2 903.5 L697.1 896.4 L697.1 889.4 L697.3 882.3 L697.2 875.2 L697.2 868.1 L697.4 861 L697.6 853.9 L697.3 846.8 L697.5 839.8 L697.7 832.7 L697.4 825.6 L697.6 818.5 L697.5 811.4 L697.5 804.3 L697.7 797.2 L697.3 790.2 L697.5 783.1 L697.8 776 L697.4 768.9 L697.6 761.8 L697.8 754.7 L697.5 747.6 L697.7 740.6 L697.4 733.5 L697.6 726.4 L697.8 719.3 L697.4 712.2 L697.7 705.1 L697.3 698 L697.5 691 L697.2 683.9 L697.6 676.8 L697.7 669.7 L697.8 662.6 L698.2 655.5 L698 648.4 L698.4 641.4 L698.3 634.3 L698.4 627.2 L698.5 620.1 L698.3 613 L698.7 605.9 L698.5 598.8 L698.9 591.8 L698.8 584.7 L699.2 577.6 L699 570.5 L698.8 563.4 L699.2 556.3 L699.1 549.2 L698.9 542.2 L699.3 535.1 L699.1 528 L699 520.9 L699.1 513.8 L699.2 506.7 L699 499.6 L698.9 492.6 L698.7 485.5 L699.1 478.4 L698.9 471.3 L698.8 464.2 L698.6 457.1 L698.4 450 L698.3 443 L698.1 435.9 L698 428.8 L697.8 421.7 L697.6 414.6 L697.5 407.5 L697.3 400.4 L697.2 393.4 L697 386.3 L696.8 379.2 L696.7 372.1 L696.5 365 L696.1 357.9 L695.6 350.8 L695.5 343.8 L695.3 336.7 L694.6 329.6 L694.4 322.5 L694.3 315.4 L693.6 308.3 L693.4 301.2 L692.7 294.2 L692.5 287.1 L691.8 280 L691.7 272.9 L690.9 265.8 L690.2 258.7 L690.1 251.6 L689.4 244.6 L688.6 237.5 L687.9 230.4 L687.5 223.3 L687.1 216.2 L686.3 209.1 L685.6 202 L684.9 195 L684.2 187.9 L682.9 180.8 L682.1 173.7 L681.3 166.6 L680.4 159.5 L679 152.4 L678.2 145.4 L677.4 138.3 L676 131.2 L674.9 124.1 L673.8 117 L672.4 109.9 L671.3 102.8 L670.2 95.8 L668.8 88.7 L667.4 81.6 L666 74.5" stroke="#90E000"/><path d="M238.4 895.9 L242.8 882.3 L247.1 868.7 L251.4 855.2 L255.8 841.6 L260.1 828 L264.5 814.4 L268.8 800.9 L273.2 787.3 L277.6 773.7 L281.9 760.2 L286.3 746.6 L290.7 733 L295.1 719.4 L299.5 705.9 L303.9 692.3 L308.3 678.7 L312.7 665.1 L317.2 651.6 L321.6 638 L326 624.4 L330.5 610.9 L334.9 597.3 L339.4 583.7 L343.8 570.1 L348.3 556.6 L352.7 543 L357.2 529.4 L361.7 515.8 L366.2 502.3 L370.7 488.7 L375.2 475.1 L379.7 461.6 L384.2 448 L388.7 434.4 L393.2 420.8 L397.7 407.3 L402.3 393.7 L406.8 380.1 L411.3 366.5 L415.9 353" stroke="#90E000" stroke-dasharray="4 5.2"/><path d="M318.3 895.9 L322.4 882.3 L326.6 868.7 L330.7 855.2 L334.8 841.6 L339 828 L343.2 814.4 L347.3 800.9 L351.5 787.3 L355.7 773.7 L359.9 760.2 L364.1 746.6 L368.3 733 L372.5 719.4 L376.7 705.9 L380.9 692.3 L385.1 678.7 L389.4 665.1 L393.6 651.6 L397.8 638 L402.1 624.4 L406.4 610.9 L410.6 597.3 L414.9 583.7 L419.2 570.1 L423.4 556.6 L427.7 543 L432 529.4 L436.3 515.8 L440.6 502.3 L445 488.7 L449.3 475.1 L453.6 461.6 L457.9 448 L462.3 434.4 L466.6 420.8 L471 407.3 L475.3 393.7 L479.7 380.1 L484.1 366.5 L488.4 353" stroke="#90E000" stroke-dasharray="4 5.2"/><path d="M367.8 895.9 L371.8 882.3 L375.8 868.7 L379.8 855.2 L383.8 841.6 L387.9 828 L391.9 814.4 L396 800.9 L400 787.3 L404.1 773.7 L408.1 760.2 L412.2 746.6 L416.3 733 L420.4 719.4 L424.5 705.9 L428.6 692.3 L432.7 678.7 L436.8 665.1 L440.9 651.6 L445 638 L449.2 624.4 L453.3 610.9 L457.5 597.3 L461.6 583.7 L465.8 570.1 L469.9 556.6 L474.1 543 L478.3 529.4 L482.5 515.8 L486.7 502.3 L490.9 488.7 L495.1 475.1 L499.3 461.6 L503.5 448 L507.8 434.4 L512 420.8 L516.2 407.3 L520.5 393.7 L524.7 380.1 L529 366.5 L533.3 353" stroke="#90E000" stroke-dasharray="4 5.2"/><path d="M433.3 895.9 L437.1 882.3 L440.9 868.7 L444.8 855.2 L448.6 841.6 L452.5 828 L456.4 814.4 L460.2 800.9 L464.1 787.3 L468 773.7 L471.9 760.2 L475.8 746.6 L479.7 733 L483.7 719.4 L487.6 705.9 L491.5 692.3 L495.5 678.7 L499.5 665.1 L503.4 651.6 L507.4 638 L511.4 624.4 L515.3 610.9 L519.3 597.3 L523.3 583.7 L527.3 570.1 L531.4 556.6 L535.4 543 L539.4 529.4 L543.4 515.8 L547.5 502.3 L551.5 488.7 L555.6 475.1 L559.7 461.6 L563.7 448 L567.8 434.4 L571.9 420.8 L576 407.3 L580.1 393.7 L584.2 380.1 L588.3 366.5 L592.4 353" stroke="#90E000" stroke-dasharray="4 5.2"/><path d="M496.7 895.9 L500.4 882.3 L504 868.7 L507.7 855.2 L511.4 841.6 L515.1 828 L518.8 814.4 L522.5 800.9 L526.2 787.3 L530 773.7 L533.7 760.2 L537.4 746.6 L541.2 733 L545 719.4 L548.7 705.9 L552.5 692.3 L556.3 678.7 L560.1 665.1 L563.9 651.6 L567.7 638 L571.5 624.4 L575.4 610.9 L579.2 597.3 L583.1 583.7 L586.9 570.1 L590.8 556.6 L594.6 543 L598.5 529.4 L602.4 515.8 L606.3 502.3 L610.2 488.7 L614.1 475.1 L618 461.6 L621.9 448 L625.9 434.4 L629.8 420.8 L633.8 407.3 L637.7 393.7 L641.7 380.1 L645.6 366.5 L649.6 353" stroke="#90E000" stroke-dasharray="4 5.2"/><path d="M554 895.9 L557.5 882.3 L561 868.7 L564.5 855.2 L568 841.6 L571.6 828 L575.1 814.4 L578.7 800.9 L582.3 787.3 L585.8 773.7 L589.4 760.2 L593 746.6 L596.6 733 L600.3 719.4 L603.9 705.9 L607.5 692.3 L611.2 678.7 L614.8 665.1 L618.5 651.6 L622.1 638 L625.8 624.4 L629.5 610.9 L633.2 597.3 L636.9 583.7 L640.6 570.1 L644.3 556.6 L648 543 L651.8 529.4 L655.5 515.8 L659.3 502.3 L663 488.7 L666.8 475.1 L670.6 461.6 L674.4 448 L678.2 434.4 L682 420.8 L685.8 407.3 L689.6 393.7 L693.4 380.1 L697.2 366.5 L701.1 353" stroke="#90E000" stroke-dasharray="4 5.2"/><path d="M629.5 895.9 L632.8 882.3 L636.1 868.7 L639.4 855.2 L642.7 841.6 L646 828 L649.4 814.4 L652.7 800.9 L656.1 787.3 L659.5 773.7 L662.9 760.2 L666.2 746.6 L669.7 733 L673.1 719.4 L676.5 705.9 L679.9 692.3 L683.4 678.7 L686.8 665.1 L690.3 651.6 L693.7 638 L697.2 624.4 L700.7 610.9 L704.2 597.3 L707.7 583.7 L711.2 570.1 L714.8 556.6 L718.3 543 L721.9 529.4 L725.4 515.8 L729 502.3 L732.5 488.7 L736.1 475.1 L739.7 461.6 L743.3 448 L746.9 434.4 L750.5 420.8 L754.2 407.3 L757.8 393.7 L761.4 380.1 L765.1 366.5 L768.8 353" stroke="#90E000" stroke-dasharray="4 5.2"/></g>
<path d="M69.5 74.5 L720.5 74.5 L720.5 353.5 L867.5 616.5 L867.5 924.5 L69.5 924.5 Z" fill="none" stroke="#000" stroke-width="1" shape-rendering="crispEdges"/>
<path d="M103.5 924.5 V935" stroke="#000" stroke-width="1" shape-rendering="crispEdges"/>
<path d="M197.5 924.5 V935" stroke="#000" stroke-width="1" shape-rendering="crispEdges"/>
<path d="M290.5 924.5 V935" stroke="#000" stroke-width="1" shape-rendering="crispEdges"/>
<path d="M384.5 924.5 V935" stroke="#000" stroke-width="1" shape-rendering="crispEdges"/>
<path d="M477.5 924.5 V935" stroke="#000" stroke-width="1" shape-rendering="crispEdges"/>
<path d="M570.5 924.5 V935" stroke="#000" stroke-width="1" shape-rendering="crispEdges"/>
<path d="M664.5 924.5 V935" stroke="#000" stroke-width="1" shape-rendering="crispEdges"/>
<path d="M757.5 924.5 V935" stroke="#000" stroke-width="1" shape-rendering="crispEdges"/>
<path d="M70 106 L70 665.6 L109.2 677 L88 687.6 L82.4 696 L70 708 L70 844.5" fill="none" stroke="#00B400" stroke-width="2" stroke-linejoin="round" stroke-linecap="butt"/>
<path d="M70.4 665.6 L138.8 676.8 L138.8 698 L135.2 709.6 L71.2 718.8" fill="none" stroke="#000" stroke-width="2" stroke-linejoin="round" stroke-linecap="butt"/>
<path d="M390 106.5 L387 120 L385 130 L383.2 140 L381.3 150 L381 160 L380.5 170 L380.5 182 L381 200 L382 220 L383.6 240 L385.6 260 L388 280 L391 300 L394.4 320 L397.6 340 L399.5 353 L401.4 360 L405.6 380 L410.3 400 L417 420 L424 440 L431 460 L438 480 L444.5 500 L454 520 L463 540 L472 560 L480.2 580 L487.5 600 L491.6 610 L493.5 620 L494.5 630 L494.5 638 L492.5 645 L488 652 L480 656.5 L467 663.5 L468.5 670 L469.5 675 L472.5 685 L476 695 L479 703 L487 720 L497 731 L505 741 L513 752 L522 764 L530.8 776.2 L545.2 794.2 L559.6 812.2 L574 828.4 L588.4 843.7 L591.5 845" fill="none" stroke="#FF0000" stroke-width="3.0" stroke-linejoin="round" stroke-linecap="butt"/>
<path d="M479 664.5 L482 674 L483.5 681 L486 690 L488 698 L491 710 L492 716 L498 727 L503 734 L509 741 L513 746 L520 756 L524 762 L531 771 L538 778 L552.4 797.8 L563.2 812.2 L574 824.8 L584.8 837.4 L590 844" fill="none" stroke="#800060" stroke-width="2" stroke-linejoin="round" stroke-dasharray="12 6.5" stroke-linecap="butt"/>
<path d="M128 106.6 L97 147.4 L116 166 L137 186 L184 210 L209 222 L258 254 L274 271 L288 286 L302 301 L314 324 L329 351 L332 366 L338 394 L339 399 L337 420 L334 441 L333 452 L326 468 L319 485 L313 498 L294 522 L276 544 L265 557 L246 574 L227 590 L210 602 L190 617 L164 638.5 L428.4 664.2 L440 667.5 L450 670 L460 673 L469 676 L471 678 L475 690 L477.8 700 L478 706 L476 713 L473 725 L469.5 735 L466 750 L461 768 L459.7 770.8 L456 783.4 L451.6 799.6 L447.1 814 L444 828.4 L443.3 836 L443.8 840.5 L445.3 843.3 L448.2 844.8" fill="none" stroke="#0064FF" stroke-width="2.7" stroke-linejoin="round" stroke-linecap="butt"/>
<circle cx="469" cy="845" r="3.6" fill="#0064FF"/>
<circle cx="591.5" cy="845" r="4.2" fill="#FF0000"/>
<path d="M815.5 74 V902.5" stroke="#000" stroke-width="1" shape-rendering="crispEdges"/>
<path d="M919 74 V925" stroke="#000" stroke-width="2"/>
<path d="M919 902.5 H930" stroke="#000" stroke-width="1" shape-rendering="crispEdges"/>
<path d="M919 859.5 H930" stroke="#000" stroke-width="1" shape-rendering="crispEdges"/>
<path d="M919 816.5 H930" stroke="#000" stroke-width="1" shape-rendering="crispEdges"/>
<path d="M919 771.5 H930" stroke="#000" stroke-width="1" shape-rendering="crispEdges"/>
<path d="M919 726.5 H930" stroke="#000" stroke-width="1" shape-rendering="crispEdges"/>
<path d="M919 681.5 H930" stroke="#000" stroke-width="1" shape-rendering="crispEdges"/>
<path d="M919 634.5 H930" stroke="#000" stroke-width="1" shape-rendering="crispEdges"/>
<path d="M919 587.5 H930" stroke="#000" stroke-width="1" shape-rendering="crispEdges"/>
<path d="M919 540 H930" stroke="#000" stroke-width="1" shape-rendering="crispEdges"/>
<path d="M919 491 H930" stroke="#000" stroke-width="1" shape-rendering="crispEdges"/>
<path d="M919 442 H930" stroke="#000" stroke-width="1" shape-rendering="crispEdges"/>
<path d="M919 391.5 H930" stroke="#000" stroke-width="1" shape-rendering="crispEdges"/>
<path d="M919 341 H930" stroke="#000" stroke-width="1" shape-rendering="crispEdges"/>
<path d="M919 290 H930" stroke="#000" stroke-width="1" shape-rendering="crispEdges"/>
<path d="M919 237 H930" stroke="#000" stroke-width="1" shape-rendering="crispEdges"/>
<path d="M919 184.5 H930" stroke="#000" stroke-width="1" shape-rendering="crispEdges"/>
<path d="M919 129.5 H930" stroke="#000" stroke-width="1" shape-rendering="crispEdges"/>
<path d="M908 106 L903.8 147.5 L900 185 L896 222.5 L892.5 260 L890.4 280 L886 310 L883 331 L876 395.6 L873.4 433 L871 518 L867.6 569 L865.9 600 L863.3 610.4 L852.9 641.6 L841.7 663.7 L842.5 678 L838 704 L834.7 743 L832 795 L830.3 828.8 L825.6 844.4" fill="none" stroke="#00B400" stroke-width="1" stroke-linejoin="round" stroke-linecap="butt" shape-rendering="crispEdges"/>
<path d="M815.5 107.4 L781.8 113.4 M781.8 113.4 l-7.7 -9.2 M785.2 112.8 l-7.7 -9.2 M788.7 112.2 l-7.7 -9.2 M792.1 111.6 l-4.2 -5 M815.5 148 L782.5 153.8 M782.5 153.8 l-7.7 -9.2 M785.9 153.2 l-7.7 -9.2 M789.4 152.6 l-7.7 -9.2 M792.8 152 l-4.2 -5 M815.5 186.3 L781.2 193.4 M781.2 193.4 l-8 -9 M784.6 192.7 l-8 -9 M788.1 192 l-8 -9 M791.5 191.3 l-4.3 -4.9 M815.5 220 L781.8 227.2 M781.8 227.2 l-8 -8.9 M785.2 226.5 l-8 -8.9 M788.6 225.7 l-8 -8.9 M815.5 256.8 L781.5 263 M781.5 263 l-7.8 -9.1 M784.9 262.4 l-7.8 -9.1 M788.4 261.7 l-7.8 -9.1 M815.5 301 L781 304.5 M781 304.5 l-7 -9.7 M784.5 304.1 l-7 -9.7 M788 303.8 l-7 -9.7 M815.5 350.4 L780.5 350.4 M780.5 350.4 l-6 -10.4 M784 350.4 l-6 -10.4 M787.5 350.4 l-3.3 -5.6 M815.5 400.3 L780.5 400.3 M780.5 400.3 l-6 -10.4 M784 400.3 l-6 -10.4 M787.5 400.3 l-3.3 -5.6 M815.5 450 L781 448.6 M781 448.6 l-5.6 -10.6 M784.5 448.7 l-5.6 -10.6 M815.5 495 L781 493 M781 493 l-5.4 -10.7 M784.5 493.2 l-5.4 -10.7 M815.5 532 L781 532 M781 532 l-6 -10.4 M784.5 532 l-6 -10.4 M815.5 564.3 L780.5 564.3 M780.5 564.3 l-6 -10.4 M784 564.3 l-6 -10.4 M815.5 590 L781 592.5 M781 592.5 l-6.7 -9.9 M784.5 592.2 l-6.7 -9.9 M815.5 608.8 L781 615 M781 615 l-7.7 -9.2 M784.4 614.4 l-7.7 -9.2 M815.5 625.2 L781.8 634.4 M781.8 634.4 l-8.5 -8.4 M785.2 633.5 l-4.6 -4.6 M815.5 640.4 L784 652.4 M784 652.4 l-9.3 -7.6 M787.3 651.2 l-5 -4.1 M815.5 653.1 L785.8 664.7 M785.8 664.7 l-9.4 -7.5 M789.1 663.4 l-5.1 -4.1 M815.5 664.3 L781 664.3 M781 664.3 l-6 -10.4 M815.5 676.6 L781.9 669.6 M781.9 669.6 l-3.8 -11.4 M815.5 688.5 L780.9 686 M780.9 686 l-5.2 -10.8 M815.5 698.4 L780.3 698.4 M780.3 698.4 l-6 -10.4 M815.5 709.4 L780.3 709.4 M780.3 709.4 l-6 -10.4 M815.5 719.4 L780.3 720.6 M780.3 720.6 l-6.4 -10.2 M815.5 729 L780.3 730.5 M780.3 730.5 l-6.4 -10.1 M815.5 737.4 L780.3 739.4 M780.3 739.4 l-6.6 -10 M815.5 746.7 L780.3 748.5 M783.8 748.3 l-3.5 -5.5 M815.5 755.4 L780.3 756.5 M783.8 756.4 l-3.4 -5.5 M815.5 763.4 L780.3 763.4 M783.8 763.4 l-3.3 -5.6 M815.5 771.5 L780.5 771 M784 771 l-3.2 -5.7 M815.5 780 L780.5 777 M784 777.3 l-2.8 -5.9 M815.5 786.8 L781 782.5 M784.5 782.9 l-2.5 -6 M815.5 794.4 L781.5 788 M784.9 788.6 l-2.2 -6.1 M815.5 801.7 L782 794 M785.4 794.8 l-1.9 -6.2 M815.5 809.3 L783 800 M786.4 801 l-1.6 -6.3 M815.5 816.5 L785 804 M788.2 805.3 l-0.9 -6.4 M815.5 823.4 L787 808 M790.1 809.7 l-0.2 -6.5 M815.5 829.7 L789 812 M791.9 813.9 l0.4 -6.5 M815.5 834.8 L792 817 M794.8 819.1 l0.8 -6.4 M815.5 839 L795 822 M797.7 824.2 l1.1 -6.4 M815.5 843 L799 826 M801.4 828.5 l1.8 -6.3" fill="none" stroke="#000" stroke-width="1" shape-rendering="crispEdges"/>
<text x="27.2" y="50.5" font-size="23" font-weight="bold" textLength="161" lengthAdjust="spacingAndGlyphs" >#8: TouwsRiver</text>
<text x="196.3" y="47.8" font-size="13" font-weight="bold" textLength="181" lengthAdjust="spacingAndGlyphs" >-33.3308°,20.0256° (125,94)</text>
<text x="399.3" y="50.5" font-size="23" font-weight="bold" textLength="158" lengthAdjust="spacingAndGlyphs" >Valid 1400 LST</text>
<text x="564.6" y="48.4" font-size="16" textLength="59.4" lengthAdjust="spacingAndGlyphs" >(1200Z)</text>
<text x="631.3" y="50.5" font-size="23" font-weight="bold" textLength="181.3" lengthAdjust="spacingAndGlyphs" >THU 12 Oct 2023</text>
<text x="819.3" y="48.2" font-size="16.5" textLength="142.6" lengthAdjust="spacingAndGlyphs" >[12hrFcst@0559z]</text>
<text x="335.8" y="70.8" font-size="14.5" font-weight="bold" fill="#A0003C" textLength="321" lengthAdjust="spacingAndGlyphs" >Plcl=739 Tlcl[C]=0 Shox=3 Pwat[cm]=1 Cape[J]= 60</text>
<text x="69.7" y="71.6" font-size="13" font-weight="bold" fill="#00B400" text-anchor="middle" textLength="18.2" lengthAdjust="spacingAndGlyphs" >0.0</text>
<text x="69.7" y="88" font-size="13" font-weight="bold" text-anchor="middle" textLength="18.2" lengthAdjust="spacingAndGlyphs" >0.0</text>
<text x="69.7" y="922.2" font-size="13" font-weight="bold" fill="#00B400" text-anchor="middle" textLength="18.2" lengthAdjust="spacingAndGlyphs" >0.0</text>
<text x="69.7" y="938.2" font-size="13" font-weight="bold" text-anchor="middle" textLength="18.2" lengthAdjust="spacingAndGlyphs" >0.0</text>
<text x="104.3" y="71.6" font-size="13" font-weight="bold" fill="#00B400" text-anchor="middle" textLength="18.2" lengthAdjust="spacingAndGlyphs" >0.5</text>
<text x="104.3" y="88" font-size="13" font-weight="bold" text-anchor="middle" textLength="18.2" lengthAdjust="spacingAndGlyphs" >0.5</text>
<text x="104.3" y="922.2" font-size="13" font-weight="bold" fill="#00B400" text-anchor="middle" textLength="18.2" lengthAdjust="spacingAndGlyphs" >0.5</text>
<text x="104.3" y="938.2" font-size="13" font-weight="bold" text-anchor="middle" textLength="18.2" lengthAdjust="spacingAndGlyphs" >0.5</text>
<text x="139" y="71.6" font-size="13" font-weight="bold" fill="#00B400" text-anchor="middle" textLength="18.2" lengthAdjust="spacingAndGlyphs" >1.0</text>
<text x="139" y="88" font-size="13" font-weight="bold" text-anchor="middle" textLength="18.2" lengthAdjust="spacingAndGlyphs" >1.0</text>
<text x="139" y="922.2" font-size="13" font-weight="bold" fill="#00B400" text-anchor="middle" textLength="18.2" lengthAdjust="spacingAndGlyphs" >1.0</text>
<text x="139" y="938.2" font-size="13" font-weight="bold" text-anchor="middle" textLength="18.2" lengthAdjust="spacingAndGlyphs" >1.0</text>
<text x="157.5" y="922.2" font-size="13" font-weight="bold" fill="#00B400" textLength="115" lengthAdjust="spacingAndGlyphs" >CloudWater (g/Kg)</text>
<text x="157.5" y="938.2" font-size="13" font-weight="bold" textLength="139" lengthAdjust="spacingAndGlyphs" >Grid-Scale Cloudiness</text>
<text x="56.3" y="81.8" font-size="20.5" font-weight="bold" text-anchor="end" textLength="31.5" lengthAdjust="spacingAndGlyphs" >250</text>
<text x="56.3" y="189.8" font-size="20.5" font-weight="bold" text-anchor="end" textLength="31.5" lengthAdjust="spacingAndGlyphs" >300</text>
<text x="56.3" y="359.8" font-size="20.5" font-weight="bold" text-anchor="end" textLength="31.5" lengthAdjust="spacingAndGlyphs" >400</text>
<text x="56.3" y="492.8" font-size="20.5" font-weight="bold" text-anchor="end" textLength="31.5" lengthAdjust="spacingAndGlyphs" >500</text>
<text x="56.3" y="691.8" font-size="20.5" font-weight="bold" text-anchor="end" textLength="31.5" lengthAdjust="spacingAndGlyphs" >700</text>
<text x="56.3" y="806.8" font-size="20.5" font-weight="bold" text-anchor="end" textLength="31.5" lengthAdjust="spacingAndGlyphs" >850</text>
<text x="56.3" y="902.8" font-size="20.5" font-weight="bold" text-anchor="end" textLength="41.5" lengthAdjust="spacingAndGlyphs" >1000</text>
<text transform="translate(22,548) rotate(-90)" font-size="18" textLength="56" lengthAdjust="spacingAndGlyphs">P (hPa)</text>
<text x="103.7" y="962.6" font-size="19.5" font-weight="bold" text-anchor="middle" textLength="27.3" lengthAdjust="spacingAndGlyphs" >-30</text>
<text x="197.1" y="962.6" font-size="19.5" font-weight="bold" text-anchor="middle" textLength="27.3" lengthAdjust="spacingAndGlyphs" >-20</text>
<text x="290.6" y="962.6" font-size="19.5" font-weight="bold" text-anchor="middle" textLength="27.3" lengthAdjust="spacingAndGlyphs" >-10</text>
<text x="384" y="962.6" font-size="19.5" font-weight="bold" text-anchor="middle" textLength="10" lengthAdjust="spacingAndGlyphs" >0</text>
<text x="477.4" y="962.6" font-size="19.5" font-weight="bold" text-anchor="middle" textLength="20" lengthAdjust="spacingAndGlyphs" >10</text>
<text x="570.9" y="962.6" font-size="19.5" font-weight="bold" text-anchor="middle" textLength="20" lengthAdjust="spacingAndGlyphs" >20</text>
<text x="664.3" y="962.6" font-size="19.5" font-weight="bold" text-anchor="middle" textLength="20" lengthAdjust="spacingAndGlyphs" >30</text>
<text x="757.7" y="962.6" font-size="19.5" font-weight="bold" text-anchor="middle" textLength="20" lengthAdjust="spacingAndGlyphs" >40</text>
<text x="494.4" y="985.6" font-size="17" font-weight="bold" text-anchor="middle" textLength="126.4" lengthAdjust="spacingAndGlyphs" >Temperature (C)</text>
<text x="815.5" y="89.5" font-size="13" font-weight="bold" fill="#00B400" text-anchor="middle" textLength="8" lengthAdjust="spacingAndGlyphs" >0</text>
<text x="815.5" y="923" font-size="13" font-weight="bold" fill="#00B400" text-anchor="middle" textLength="8" lengthAdjust="spacingAndGlyphs" >0</text>
<text x="867" y="89.5" font-size="13" font-weight="bold" fill="#00B400" text-anchor="middle" textLength="16.5" lengthAdjust="spacingAndGlyphs" >20</text>
<text x="867" y="923" font-size="13" font-weight="bold" fill="#00B400" text-anchor="middle" textLength="16.5" lengthAdjust="spacingAndGlyphs" >20</text>
<text x="919" y="89.5" font-size="13" font-weight="bold" fill="#00B400" text-anchor="middle" textLength="16.5" lengthAdjust="spacingAndGlyphs" >40</text>
<text x="919" y="923" font-size="13" font-weight="bold" fill="#00B400" text-anchor="middle" textLength="16.5" lengthAdjust="spacingAndGlyphs" >40</text>
<text x="971" y="89.5" font-size="13" font-weight="bold" fill="#00B400" text-anchor="middle" textLength="16.5" lengthAdjust="spacingAndGlyphs" >60</text>
<text x="971" y="923" font-size="13" font-weight="bold" fill="#00B400" text-anchor="middle" textLength="16.5" lengthAdjust="spacingAndGlyphs" >60</text>
<text x="869" y="938.5" font-size="13" font-weight="bold" fill="#00B400" text-anchor="middle" textLength="64" lengthAdjust="spacingAndGlyphs" >Speed (kt)</text>
<text x="942.5" y="909.7" font-size="19" font-weight="bold" textLength="10.5" lengthAdjust="spacingAndGlyphs" >0</text>
<text x="942.5" y="866.7" font-size="19" font-weight="bold" textLength="10.5" lengthAdjust="spacingAndGlyphs" >2</text>
<text x="942.5" y="823.7" font-size="19" font-weight="bold" textLength="10.5" lengthAdjust="spacingAndGlyphs" >4</text>
<text x="942.5" y="778.7" font-size="19" font-weight="bold" textLength="10.5" lengthAdjust="spacingAndGlyphs" >6</text>
<text x="942.5" y="733.7" font-size="19" font-weight="bold" textLength="10.5" lengthAdjust="spacingAndGlyphs" >8</text>
<text x="942.5" y="688.7" font-size="19" font-weight="bold" textLength="20.7" lengthAdjust="spacingAndGlyphs" >10</text>
<text x="942.5" y="641.7" font-size="19" font-weight="bold" textLength="20.7" lengthAdjust="spacingAndGlyphs" >12</text>
<text x="942.5" y="594.7" font-size="19" font-weight="bold" textLength="20.7" lengthAdjust="spacingAndGlyphs" >14</text>
<text x="942.5" y="547.2" font-size="19" font-weight="bold" textLength="20.7" lengthAdjust="spacingAndGlyphs" >16</text>
<text x="942.5" y="498.2" font-size="19" font-weight="bold" textLength="20.7" lengthAdjust="spacingAndGlyphs" >18</text>
<text x="942.5" y="449.2" font-size="19" font-weight="bold" textLength="20.7" lengthAdjust="spacingAndGlyphs" >20</text>
<text x="942.5" y="398.7" font-size="19" font-weight="bold" textLength="20.7" lengthAdjust="spacingAndGlyphs" >22</text>
<text x="942.5" y="348.2" font-size="19" font-weight="bold" textLength="20.7" lengthAdjust="spacingAndGlyphs" >24</text>
<text x="942.5" y="297.2" font-size="19" font-weight="bold" textLength="20.7" lengthAdjust="spacingAndGlyphs" >26</text>
<text x="942.5" y="244.2" font-size="19" font-weight="bold" textLength="20.7" lengthAdjust="spacingAndGlyphs" >28</text>
<text x="942.5" y="191.7" font-size="19" font-weight="bold" textLength="20.7" lengthAdjust="spacingAndGlyphs" >30</text>
<text x="942.5" y="136.7" font-size="19" font-weight="bold" textLength="20.7" lengthAdjust="spacingAndGlyphs" >32</text>
<text transform="translate(884.5,420.5) rotate(90)" font-size="20.5" font-weight="bold" textLength="158.5" lengthAdjust="spacingAndGlyphs">Height (1000 Feet)</text>
<text transform="translate(733.5,243.5) rotate(-44)" font-size="21" fill="#FFAF00" text-anchor="middle" dy="7.5">0</text>
<text transform="translate(756.3,379.5) rotate(-44)" font-size="21" fill="#FFAF00" text-anchor="middle" dy="7.5">10</text>
<text transform="translate(804.3,469) rotate(-44)" font-size="21" fill="#FFAF00" text-anchor="middle" dy="7.5">20</text>
<text transform="translate(853,556.5) rotate(-44)" font-size="21" fill="#FFAF00" text-anchor="middle" dy="7.5">30</text>
<text transform="translate(80,177.5) rotate(53)" font-size="15" fill="#FFAF00" text-anchor="middle" dy="5.3">10</text>
<text transform="translate(80.5,342.4) rotate(55)" font-size="15" fill="#FFAF00" text-anchor="middle" dy="5.3">0</text>
<text transform="translate(81,505.5) rotate(57)" font-size="15" fill="#FFAF00" text-anchor="middle" dy="5.3">-10</text>
<text transform="translate(79.3,666) rotate(60)" font-size="15" fill="#FFAF00" text-anchor="middle" dy="5.3">-20</text>
<text transform="translate(78.5,825) rotate(57)" font-size="15" fill="#FFAF00" text-anchor="middle" dy="5.3">-30</text>
<text transform="translate(234.6,909) rotate(-68)" font-size="15" fill="#90E000" text-anchor="middle" dy="5">1</text>
<text transform="translate(314.5,909) rotate(-68)" font-size="15" fill="#90E000" text-anchor="middle" dy="5">2</text>
<text transform="translate(364,909) rotate(-68)" font-size="15" fill="#90E000" text-anchor="middle" dy="5">3</text>
<text transform="translate(429.5,909) rotate(-68)" font-size="15" fill="#90E000" text-anchor="middle" dy="5">5</text>
<text transform="translate(492.9,909) rotate(-68)" font-size="15" fill="#90E000" text-anchor="middle" dy="5">8</text>
<text transform="translate(550.2,909) rotate(-68)" font-size="15" fill="#90E000" text-anchor="middle" dy="5">12</text>
<text transform="translate(625.7,909) rotate(-68)" font-size="15" fill="#90E000" text-anchor="middle" dy="5">20</text></svg>
</body></html>
